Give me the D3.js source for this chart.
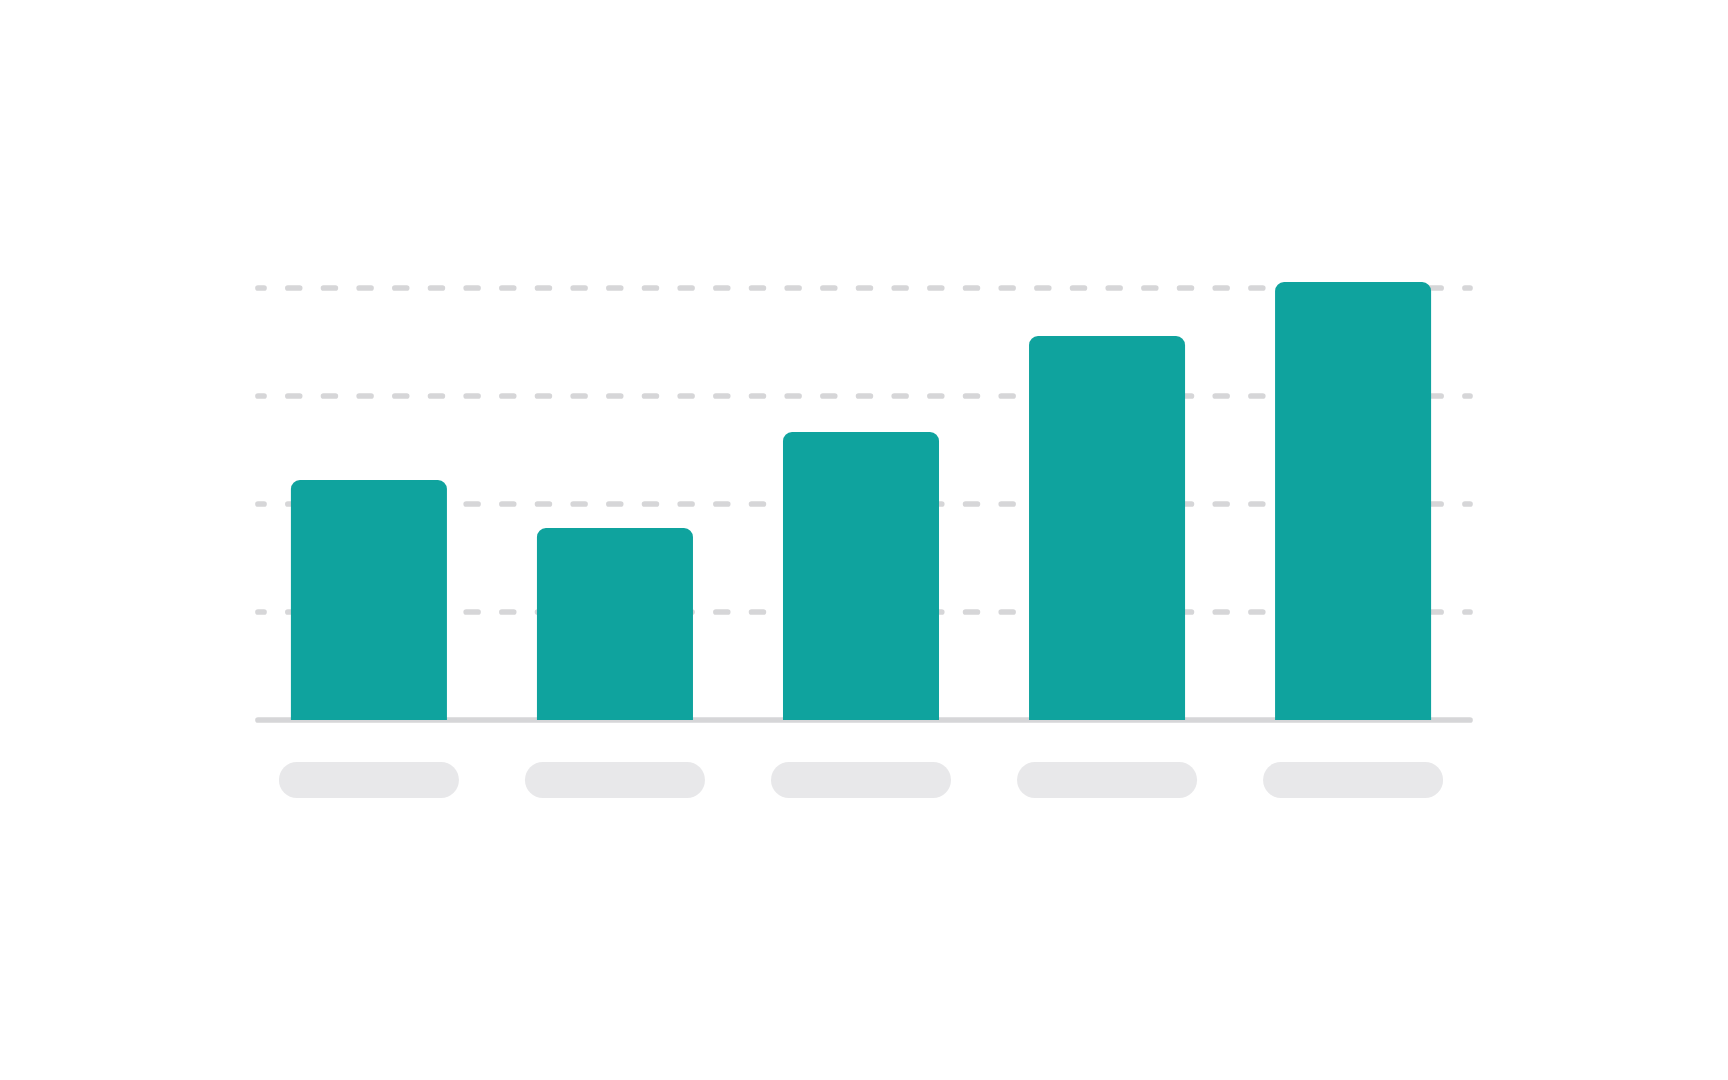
<!DOCTYPE html>
<html>
<head>
    <meta charset="utf-8">
    <script src="https://cdn.jsdelivr.net/npm/d3@7/dist/d3.min.js"></script>
    <title>Bar chart</title>
    <style>
        html, body { margin: 0; padding: 0; background: #ffffff; }
    </style>
</head>
<body>
<script>
    // data
    const categories = ["A", "B", "C", "D", "E"];
    const values = [100, 80, 120, 160, 182.5];
    const gridTicks = [45, 90, 135, 180];

    const width = 1728;
    const height = 1080;
    const lineLeft = 258, lineRight = 1470;   // grid/baseline extent
    const plotTop = 288, plotBottom = 720;

    const svg = d3.select("body").append("svg")
        .attr("width", width)
        .attr("height", height)
        .attr("viewBox", [0, 0, width, height]);

    const x = d3.scaleBand()
        .domain(categories)
        .range([254, 1468])
        .paddingInner(90 / 246)
        .paddingOuter(0.15);

    const y = d3.scaleLinear()
        .domain([0, 180])
        .range([plotBottom, plotTop]);

    // dashed grid lines
    svg.append("g")
        .selectAll("line")
        .data(gridTicks)
        .join("line")
        .attr("x1", lineLeft)
        .attr("x2", lineRight)
        .attr("y1", d => y(d))
        .attr("y2", d => y(d))
        .attr("stroke", "#d6d6d8")
        .attr("stroke-width", 5.7)
        .attr("stroke-linecap", "round")
        .attr("stroke-dasharray", "11.8 23.87")
        .attr("stroke-dashoffset", 5.8);

    // baseline
    svg.append("line")
        .attr("x1", lineLeft)
        .attr("x2", lineRight)
        .attr("y1", y(0))
        .attr("y2", y(0))
        .attr("stroke", "#d6d6d8")
        .attr("stroke-width", 5.7)
        .attr("stroke-linecap", "round");

    // bars with rounded top corners
    const r = 9;
    const barPath = (x0, w, top, bottom) => {
        const p = d3.path();
        p.moveTo(x0, bottom);
        p.lineTo(x0, top + r);
        p.arcTo(x0, top, x0 + r, top, r);
        p.lineTo(x0 + w - r, top);
        p.arcTo(x0 + w, top, x0 + w, top + r, r);
        p.lineTo(x0 + w, bottom);
        p.closePath();
        return p.toString();
    };

    svg.append("g")
        .selectAll("path")
        .data(categories)
        .join("path")
        .attr("d", (d, i) => barPath(x(d), x.bandwidth(), y(values[i]), y(0)))
        .attr("fill", "#0fa39e");

    // placeholder category labels (pills)
    const pillW = 180, pillH = 36;
    svg.append("g")
        .selectAll("rect")
        .data(categories)
        .join("rect")
        .attr("x", d => x(d) + x.bandwidth() / 2 - pillW / 2)
        .attr("y", y(0) + 42)
        .attr("width", pillW)
        .attr("height", pillH)
        .attr("rx", pillH / 2)
        .attr("fill", "#e8e8ea");
</script>
</body>
</html>
